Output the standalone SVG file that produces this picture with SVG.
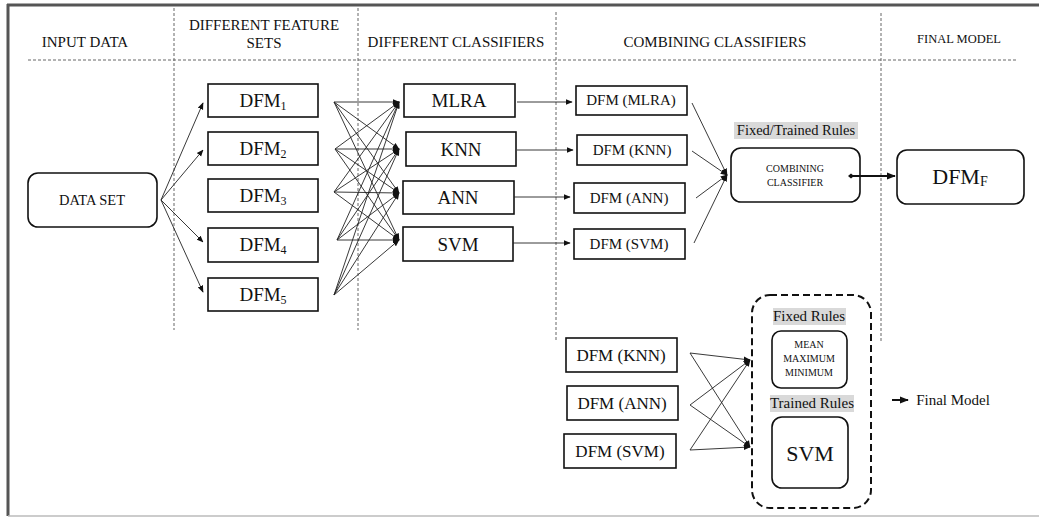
<svg xmlns="http://www.w3.org/2000/svg" width="1039" height="518" viewBox="0 0 1039 518" font-family="'Liberation Serif', 'Times New Roman', 'DejaVu Serif', serif">
<style>
text{font-family:'Liberation Serif','Times New Roman','DejaVu Serif',serif;fill:#111;text-anchor:middle}
.hdr{font-size:15px}
.box{fill:#fff;stroke:#111;stroke-width:1.6}
.rbox{fill:#fff;stroke:#111;stroke-width:1.6}
.sep{stroke:#666;stroke-width:1;stroke-dasharray:3,2;fill:none}
.ln{stroke:#222;stroke-width:0.9;fill:none}
.big{font-size:19px}
.mid{font-size:15px}
.hl{fill:#d9d9d9}
</style>
<defs>
<marker id="ah" viewBox="0 0 10 10" refX="9" refY="5" markerWidth="7" markerHeight="7" markerUnits="userSpaceOnUse" orient="auto"><path d="M0,1 L10,5 L0,9 z" fill="#111"/></marker>
<marker id="ahb" viewBox="0 0 10 10" refX="9" refY="5" markerWidth="9" markerHeight="9" markerUnits="userSpaceOnUse" orient="auto"><path d="M0,1 L10,5 L0,9 z" fill="#111"/></marker>
<marker id="dot" viewBox="0 0 10 10" refX="5" refY="5" markerWidth="6" markerHeight="6" markerUnits="userSpaceOnUse" orient="auto"><path d="M0,5 L5,1 L10,5 L5,9 z" fill="#111"/></marker>
</defs>

<g id="frame">
<line x1="7" y1="5" x2="1039" y2="5" stroke="#555" stroke-width="3"/>
<line x1="8" y1="4" x2="8" y2="516" stroke="#555" stroke-width="3"/>
<line x1="8" y1="516" x2="1039" y2="516" stroke="#bbb" stroke-width="1.5"/>
<line class="sep" x1="28" y1="60" x2="1017" y2="60"/>
<line class="sep" x1="174" y1="8" x2="174" y2="330"/>
<line class="sep" x1="358" y1="8" x2="358" y2="330"/>
<line class="sep" x1="556" y1="12" x2="556" y2="340"/>
<line class="sep" x1="881" y1="13" x2="881" y2="343"/>
</g>

<g id="headers">
<text class="hdr" x="85" y="47">INPUT DATA</text>
<text class="hdr" x="264" y="30">DIFFERENT FEATURE</text>
<text class="hdr" x="264" y="48">SETS</text>
<text class="hdr" x="456" y="47">DIFFERENT CLASSIFIERS</text>
<text class="hdr" x="715" y="47">COMBINING CLASSIFIERS</text>
<text x="959" y="43" style="font-size:12.5px">FINAL MODEL</text>
</g>

<g id="dataset">
<rect class="rbox" x="28" y="173" width="129" height="54" rx="10"/>
<text x="92" y="205" style="font-size:14.5px">DATA SET</text>
</g>

<g id="dfm1"><rect class="box" x="208" y="84" width="110" height="33"/><text class="big" x="263" y="107">DFM<tspan font-size="12" dy="3">1</tspan></text></g>
<g id="dfm2"><rect class="box" x="208" y="132" width="110" height="33"/><text class="big" x="263" y="155">DFM<tspan font-size="12" dy="3">2</tspan></text></g>
<g id="dfm3"><rect class="box" x="208" y="179" width="110" height="33"/><text class="big" x="263" y="202">DFM<tspan font-size="12" dy="3">3</tspan></text></g>
<g id="dfm4"><rect class="box" x="208" y="228" width="110" height="34"/><text class="big" x="263" y="251">DFM<tspan font-size="12" dy="3">4</tspan></text></g>
<g id="dfm5"><rect class="box" x="208" y="278" width="110" height="33"/><text class="big" x="263" y="301">DFM<tspan font-size="12" dy="3">5</tspan></text></g>

<g id="mlra"><rect class="box" x="404" y="84" width="111" height="33"/><text class="big" x="459" y="107">MLRA</text></g>
<g id="knn"><rect class="box" x="406" y="132" width="110" height="34"/><text class="big" x="461" y="156">KNN</text></g>
<g id="ann"><rect class="box" x="403" y="181" width="111" height="33"/><text class="big" x="458" y="204">ANN</text></g>
<g id="svm"><rect class="box" x="403" y="227" width="110" height="34"/><text class="big" x="458" y="251">SVM</text></g>

<g id="dfm-mlra"><rect class="box" x="576" y="86" width="111" height="29"/><text class="mid" x="631" y="105">DFM (MLRA)</text></g>
<g id="dfm-knn"><rect class="box" x="577" y="135" width="110" height="30"/><text class="mid" x="632" y="155">DFM (KNN)</text></g>
<g id="dfm-ann"><rect class="box" x="574" y="183" width="111" height="30"/><text class="mid" x="629" y="203">DFM (ANN)</text></g>
<g id="dfm-svm"><rect class="box" x="574" y="229" width="111" height="30"/><text class="mid" x="629" y="249">DFM (SVM)</text></g>

<g id="combining">
<rect class="hl" x="734" y="122" width="124" height="17"/>
<text x="796" y="135" style="font-size:14.5px">Fixed/Trained Rules</text>
<rect class="rbox" x="731" y="148" width="129" height="54" rx="10"/>
<text x="795" y="172" style="font-size:10px">COMBINING</text>
<text x="795" y="186" style="font-size:10px">CLASSIFIER</text>
</g>

<g id="dfmf">
<rect class="rbox" x="897" y="150" width="127" height="54" rx="10"/>
<text x="960" y="184" style="font-size:22px">DFM<tspan font-size="14" dy="2">F</tspan></text>
</g>

<g id="b-knn"><rect class="box" x="566" y="338" width="111" height="34"/><text x="621" y="361" style="font-size:17px">DFM (KNN)</text></g>
<g id="b-ann"><rect class="box" x="567" y="386" width="111" height="34"/><text x="622" y="409" style="font-size:17px">DFM (ANN)</text></g>
<g id="b-svm"><rect class="box" x="564" y="434" width="112" height="34"/><text x="620" y="457" style="font-size:17px">DFM (SVM)</text></g>

<g id="rules">
<rect x="752" y="295" width="119" height="213" rx="18" fill="none" stroke="#111" stroke-width="2" stroke-dasharray="7,4"/>
<rect class="hl" x="773" y="308" width="73" height="17"/>
<text x="809" y="321" style="font-size:15px">Fixed Rules</text>
<rect class="rbox" x="772" y="331" width="75" height="57" rx="9"/>
<text x="809" y="348" style="font-size:10px">MEAN</text>
<text x="809" y="362" style="font-size:10px">MAXIMUM</text>
<text x="809" y="376" style="font-size:10px">MINIMUM</text>
<rect class="hl" x="770" y="395" width="84" height="17"/>
<text x="812" y="408" style="font-size:15px">Trained Rules</text>
<rect class="rbox" x="772" y="417" width="76" height="71" rx="10"/>
<text x="810" y="461" style="font-size:22px">SVM</text>
</g>

<g id="legend">
<line x1="892" y1="400" x2="908" y2="400" stroke="#111" stroke-width="2" marker-end="url(#ahb)"/>
<text x="953" y="405" style="font-size:15px">Final Model</text>
</g>

<g id="connectors">
<line class="ln" x1="161" y1="200" x2="203" y2="103" marker-end="url(#ah)"/>
<line class="ln" x1="161" y1="200" x2="203" y2="150" marker-end="url(#ah)"/>
<line class="ln" x1="161" y1="200" x2="203" y2="242" marker-end="url(#ah)"/>
<line class="ln" x1="161" y1="200" x2="203" y2="292" marker-end="url(#ah)"/>

<line class="ln" x1="334" y1="102" x2="399" y2="102" marker-end="url(#ah)"/>
<line class="ln" x1="334" y1="102" x2="399" y2="149" marker-end="url(#ah)"/>
<line class="ln" x1="334" y1="102" x2="399" y2="193" marker-end="url(#ah)"/>
<line class="ln" x1="334" y1="102" x2="399" y2="240" marker-end="url(#ah)"/>
<line class="ln" x1="335" y1="149" x2="399" y2="102" marker-end="url(#ah)"/>
<line class="ln" x1="335" y1="149" x2="399" y2="149" marker-end="url(#ah)"/>
<line class="ln" x1="335" y1="149" x2="399" y2="193" marker-end="url(#ah)"/>
<line class="ln" x1="335" y1="149" x2="399" y2="240" marker-end="url(#ah)"/>
<line class="ln" x1="334" y1="192" x2="399" y2="102" marker-end="url(#ah)"/>
<line class="ln" x1="334" y1="192" x2="399" y2="149" marker-end="url(#ah)"/>
<line class="ln" x1="334" y1="192" x2="399" y2="193" marker-end="url(#ah)"/>
<line class="ln" x1="334" y1="192" x2="399" y2="240" marker-end="url(#ah)"/>
<line class="ln" x1="337" y1="240" x2="399" y2="102" marker-end="url(#ah)"/>
<line class="ln" x1="337" y1="240" x2="399" y2="149" marker-end="url(#ah)"/>
<line class="ln" x1="337" y1="240" x2="399" y2="193" marker-end="url(#ah)"/>
<line class="ln" x1="337" y1="240" x2="399" y2="240" marker-end="url(#ah)"/>
<line class="ln" x1="334" y1="295" x2="399" y2="102" marker-end="url(#ah)"/>
<line class="ln" x1="334" y1="295" x2="399" y2="149" marker-end="url(#ah)"/>
<line class="ln" x1="334" y1="295" x2="399" y2="193" marker-end="url(#ah)"/>
<line class="ln" x1="334" y1="295" x2="399" y2="240" marker-end="url(#ah)"/>

<line class="ln" x1="517" y1="102" x2="572" y2="102" marker-end="url(#ah)"/>
<line class="ln" x1="517" y1="150" x2="573" y2="150" marker-end="url(#ah)"/>
<line class="ln" x1="514" y1="197" x2="570" y2="197" marker-end="url(#ah)"/>
<line class="ln" x1="513" y1="243" x2="570" y2="243" marker-end="url(#ah)"/>

<line class="ln" x1="692" y1="103" x2="727" y2="175" marker-end="url(#ah)"/>
<line class="ln" x1="692" y1="151" x2="727" y2="175" marker-end="url(#ah)"/>
<line class="ln" x1="696" y1="198" x2="727" y2="175" marker-end="url(#ah)"/>
<line class="ln" x1="694" y1="243" x2="727" y2="175" marker-end="url(#ah)"/>

<line x1="851" y1="176" x2="895" y2="176" stroke="#111" stroke-width="2" marker-start="url(#dot)" marker-end="url(#ahb)"/>

<line class="ln" x1="690" y1="353" x2="750" y2="360" marker-end="url(#ah)"/>
<line class="ln" x1="690" y1="353" x2="750" y2="447" marker-end="url(#ah)"/>
<line class="ln" x1="690" y1="405" x2="750" y2="360" marker-end="url(#ah)"/>
<line class="ln" x1="690" y1="405" x2="750" y2="447" marker-end="url(#ah)"/>
<line class="ln" x1="690" y1="450" x2="750" y2="360" marker-end="url(#ah)"/>
<line class="ln" x1="690" y1="450" x2="750" y2="447" marker-end="url(#ah)"/>
</g>
</svg>
